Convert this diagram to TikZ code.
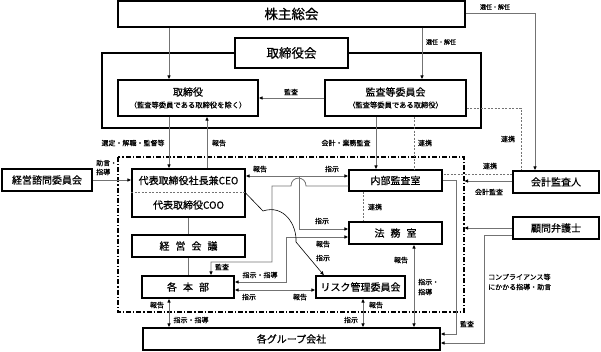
\documentclass[tikz,border=0pt]{standalone}
\usepackage{fontspec}
\setmainfont{Noto Sans CJK JP}
\newfontfamily\boxfont{Noto Sans CJK JP}[FakeBold=0.7]
\newfontfamily\lblfont{Noto Sans CJK JP}[FakeBold=0.5]
\usetikzlibrary{arrows.meta}
\definecolor{ln}{HTML}{737373}
\newcommand{\jgap}{\hspace{6pt}}
\begin{document}
\begin{tikzpicture}[x=1pt,y=-1pt,
  >={Latex[length=4pt,width=3.6pt,color=black]},
  box/.style={draw=black,line width=1.2pt,fill=white,inner sep=0pt,font=\boxfont\fontsize{10}{12}\selectfont},
  txt/.style={inner sep=0pt,font=\boxfont\fontsize{10}{12}\selectfont},
  sub/.style={inner sep=0pt,font=\lblfont\fontsize{7.3}{8}\selectfont},
  conn/.style={draw=ln,line width=0.8pt},
  coop/.style={draw=ln,line width=0.8pt,dash pattern=on 2pt off 1.5pt},
  lbl/.style={font=\lblfont\fontsize{7}{8}\selectfont,inner sep=0pt},
  slbl/.style={font=\lblfont\fontsize{6}{7}\selectfont,inner sep=0pt},
]
\useasboundingbox (0,0) rectangle (601,352);
\foreach \v in {169,207,211,272,286,291,299,306,324,363,376,414,422,456,464,484,521,535} \coordinate (X\v) at (\v,0);
\foreach \v in {13,108,174,176,180,181,186,192,193,228,229,235,237,262,282,290,334,343} \coordinate (Y\v) at (0,\v);

% frames
\draw[line width=1.2pt] (102,53) rectangle (481,128);
\draw[line width=1.1pt,dash pattern=on 5pt off 2pt on 1.2pt off 2pt] (118,157) rectangle (464,312);

% boxes
\node[box,minimum width=347,minimum height=26,font=\boxfont\fontsize{13.5}{14}\selectfont] (kabu) at (291.5,14) {株主総会};
\node[box,minimum width=113,minimum height=30,font=\boxfont\fontsize{12.5}{13}\selectfont] (torikai) at (291.5,53) {取締役会};
\node[box,minimum width=140,minimum height=36] (tori) at (188,98) {};
\node[txt] (toriA) at (188,92) {取締役};
\node[sub] (toriB) at (188,105) {（監査等委員である取締役を除く）};
\node[box,minimum width=141,minimum height=36] (kansa) at (395.5,98) {};
\node[txt] (kansaA) at (395.5,92) {監査等委員会};
\node[sub] (kansaB) at (395.5,105) {（監査等委員である取締役）};
\node[box,minimum width=90,minimum height=22] (shimon) at (47,180) {経営諮問委員会};
\node[box,minimum width=113,minimum height=48] (ceo) at (188.5,193) {};
\draw[coop] (ceo.west |- Y192) -- (ceo.east |- Y192);
\node[txt] (ceoA) at (188.5,180.5) {代表取締役社長兼CEO};
\node[txt] (ceoB) at (188.5,205) {代表取締役COO};
\node[box,minimum width=93,minimum height=21] (naibu) at (395.5,180.5) {内部監査室};
\node[box,minimum width=93,minimum height=22] (houmu) at (395.5,233) {法\jgap 務\jgap 室};
\node[box,minimum width=113,minimum height=22] (keiei) at (188.5,246) {経\jgap 営\jgap 会\jgap 議};
\node[box,minimum width=92,minimum height=22] (honbu) at (188,287) {各\jgap 本\jgap 部};
\node[box,minimum width=89,minimum height=22] (risk) at (360.5,287) {リスク管理委員会};
\node[box,minimum width=297,minimum height=22] (group) at (291.5,339) {各グループ会社};
\node[box,minimum width=86,minimum height=22] (kaikei) at (556,182) {会計監査人};
\node[box,minimum width=86,minimum height=22] (komon) at (556,228) {顧問弁護士};

% connectors
\draw[conn,->] (kabu.south -| X169) -- (tori.north -| X169);
\draw[conn,->] (kabu.south -| X422) -- (kansa.north -| X422);
\draw[conn,->] (kabu.east |- Y13) -- (X535 |- Y13) -- (kaikei.north -| X535);
\draw[conn,->] (kansa.west) -- (tori.east);
\draw[conn,->] (tori.south -| X169) -- (ceo.north -| X169);
\draw[conn,->] (ceo.north -| X207) -- (tori.south -| X207);
\draw[conn,->] (kansa.south -| X376) -- (naibu.north -| X376);
\draw[coop] (kansa.south -| X414) -- (naibu.north -| X414);
\draw[coop] (kansa.east |- Y108) -- (X521 |- Y108) -- (kaikei.north -| X521);
\draw[coop] (kaikei.west |- Y174) -- (naibu.east |- Y174);
\draw[conn,->] (kaikei.west |- Y181) -- (X464 |- Y181);
\draw[conn,->] (komon.west |- Y228) -- (X464 |- Y228);
\draw[conn,->] (komon.west |- Y235) -- (X484 |- Y235) -- (X484 |- Y343) -- (group.east |- Y343);
\draw[conn,->] (naibu.east |- Y180) -- (X456 |- Y180) -- (X456 |- Y334) -- (group.east |- Y334);
\draw[conn,->] (shimon.east) -- (ceo.west |- shimon.east);
\draw[conn,<->] (ceo.east |- Y176) -- (naibu.west |- Y176);
\draw[conn,->] (X299 |- Y176) -- (X299 |- Y229) -- (houmu.west |- Y229);
\draw[conn,->] (naibu.west |- Y186) -- (X306 |- Y186) .. controls (306,175.5) and (291,175.5) .. (X291 |- Y186) -- (X272 |- Y186) -- (X272 |- Y262) -- (X211 |- Y262) -- (honbu.north -| X211);
\draw[conn,<->] (houmu.west |- Y237) -- (X286 |- Y237) -- (X286 |- Y282) -- (honbu.east |- Y282);
\draw[conn,<->] (honbu.east |- Y290) -- (risk.west |- Y290);
\draw[coop] (naibu.south -| X363) -- (houmu.north -| X363);
\draw[conn] (ceo.south) -- (keiei.north);
\draw[conn] (keiei.south) -- (honbu.north -| keiei.south);
\draw[conn,<->] (honbu.south -| X169) -- (group.north -| X169);
\draw[conn,<->] (risk.south -| X363) -- (group.north -| X363);
\draw[conn,<->] (houmu.south -| X414) -- (group.north -| X414);
\draw[line width=0.6pt,->] (ceo.east |- Y193) -- (263,211) .. controls (284,204) and (297,225) .. (296,242) -- (risk.north -| X324);

% labels
\node[slbl] (l01) at (495,7) {選任・解任};
\node[slbl] (l02) at (441,42) {選任・解任};
\node[lbl] (l03) at (291,92) {監査};
\node[lbl] (l04) at (133,143) {選定・解職・監督等};
\node[lbl] (l05) at (219,143) {報告};
\node[lbl] (l06) at (346,143) {会計・業務監査};
\node[lbl] (l07) at (425,143) {連携};
\node[lbl] (l08) at (508,139) {連携};
\node[lbl,anchor=west] (l09) at (96,163) {助言・};
\node[lbl,anchor=west] (l10) at (96,172) {指導};
\node[lbl] (l11) at (260,169) {報告};
\node[lbl] (l12) at (332,169) {指示};
\node[lbl] (l13) at (490,166) {連携};
\node[lbl] (l14) at (489,192) {会計監査};
\node[lbl] (l15) at (375,207) {連携};
\node[lbl] (l16) at (322,221) {指示};
\node[lbl] (l17) at (323,244) {報告};
\node[lbl] (l18) at (323,258) {指示};
\node[lbl] (l19) at (222,267) {監査};
\node[lbl] (l20) at (260,275) {指示・指導};
\node[lbl] (l21) at (249,297) {指示};
\node[lbl] (l22) at (300,297) {報告};
\node[lbl] (l23) at (157,305) {報告};
\node[lbl] (l24) at (191,320) {指示・指導};
\node[lbl] (l25) at (376,305) {報告};
\node[lbl] (l26) at (351,320) {指示};
\node[lbl] (l27) at (401,260) {報告};
\node[lbl,anchor=west] (l28) at (418,282) {指示・};
\node[lbl,anchor=west] (l29) at (418,292) {指導};
\node[lbl] (l30) at (467,324) {監査};
\node[lbl,anchor=west] (l31) at (488,277) {コンプライアンス等};
\node[lbl,anchor=west] (l32) at (488,287) {にかかる指導・助言};
\end{tikzpicture}
\end{document}
